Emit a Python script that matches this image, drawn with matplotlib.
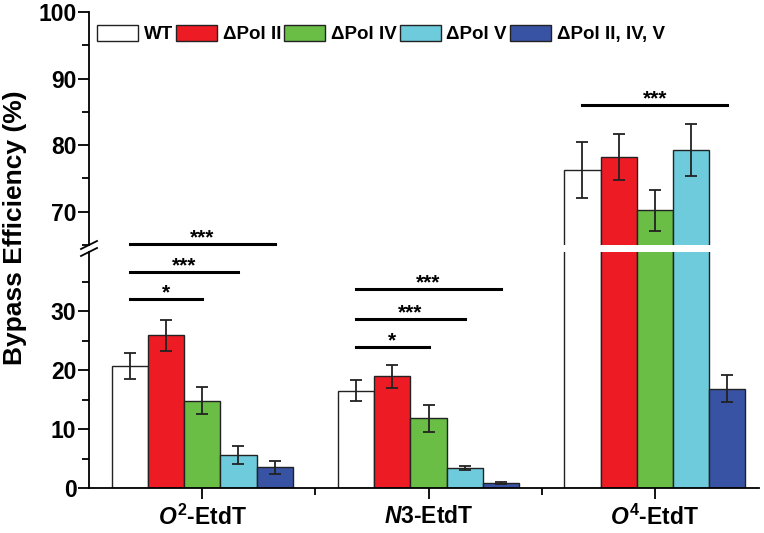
import matplotlib
matplotlib.use("Agg")
import matplotlib.pyplot as plt
import numpy as np
from matplotlib.lines import Line2D
from matplotlib.ticker import MultipleLocator

plt.rcParams["font.family"] = ["Liberation Sans", "DejaVu Sans"]
plt.rcParams["font.weight"] = "bold"
plt.rcParams["mathtext.fontset"] = "custom"
plt.rcParams["mathtext.it"] = "Liberation Sans:italic:bold"
plt.rcParams["mathtext.rm"] = "Liberation Sans:bold"
plt.rcParams["mathtext.bf"] = "Liberation Sans:bold"

groups = [r"$O^{2}$-EtdT", r"$N$3-EtdT", r"$O^{4}$-EtdT"]
strains = ["WT", "ΔPol II", "ΔPol IV", "ΔPol V", "ΔPol II, IV, V"]
colors = ["#ffffff", "#ed1c24", "#6abd45", "#6dcbdc", "#3953a4"]

wt = [20.6, 16.5, 76.3]
wt_err = [2.2, 1.8, 4.2]
pol2 = [25.9, 18.9, 78.2]
pol2_err = [2.6, 2.0, 3.5]
pol4 = [14.8, 11.8, 70.2]
pol4_err = [2.3, 2.3, 3.1]
pol5 = [5.6, 3.4, 79.3]
pol5_err = [1.5, 0.35, 3.9]
triple = [3.5, 0.9, 16.8]
triple_err = [1.1, 0.15, 2.3]

values = [wt, pol2, pol4, pol5, triple]
errors = [wt_err, pol2_err, pol4_err, pol5_err, triple_err]

# significance brackets: WT vs strain index
sig_group = [0, 0, 0, 1, 1, 1, 2]
sig_target = [4, 3, 2, 4, 3, 2, 4]
sig_level = [41.4, 36.6, 32.1, 33.7, 28.6, 23.9, 86.0]
sig_label = ["***", "***", "*", "***", "***", "*", "***"]

W, H = 764, 533
fig = plt.figure(figsize=(W / 100, H / 100), dpi=100)
left, right = 89 / W, 759 / W
ax_top = fig.add_axes([left, 1 - 245 / H, right - left, (245 - 12) / H])
ax_bot = fig.add_axes([left, 1 - 488 / H, right - left, (488 - 252) / H])

x = np.arange(len(groups))
width = 0.16
offsets = (np.arange(len(strains)) - 2) * width

for ax in (ax_top, ax_bot):
    for i, (vals, errs) in enumerate(zip(values, errors)):
        ax.bar(x + offsets[i], vals, width, color=colors[i], edgecolor="#222222",
               linewidth=1.0, label=strains[i], zorder=2)
        ax.errorbar(x + offsets[i], vals, yerr=errs, fmt="none", ecolor="#222222",
                    elinewidth=1.3, capsize=4, capthick=1.3, zorder=3)
    ax.set_xlim(-0.5, 2.46)
    for s in ("top", "right"):
        ax.spines[s].set_visible(False)
    ax.spines["left"].set_linewidth(1.3)
    ax.tick_params(axis="y", which="major", length=8, width=1.3, labelsize=16.5, pad=1)
    ax.tick_params(axis="y", which="minor", length=5, width=1.3)

ax_top.set_ylim(65, 100)
ax_top.yaxis.set_major_locator(MultipleLocator(10))
ax_top.yaxis.set_minor_locator(MultipleLocator(5))
ax_top.set_yticks([70, 80, 90, 100])
ax_top.spines["bottom"].set_visible(False)
ax_top.tick_params(axis="x", which="both", bottom=False, labelbottom=False)

ax_bot.set_ylim(0, 40)
ax_bot.set_yticks([0, 10, 20, 30])
ax_bot.set_yticks([5, 15, 25, 35], minor=True)
ax_bot.spines["bottom"].set_linewidth(1.3)
ax_bot.set_xticks(x)
ax_bot.set_xticklabels(groups, fontsize=16.5)
ax_bot.set_xticks([0.5, 1.5], minor=True)
ax_bot.tick_params(axis="x", which="major", length=8, width=1.3, pad=4)
ax_bot.tick_params(axis="x", which="minor", length=5, width=1.3)

# significance lines
for g, t, lev, lab in zip(sig_group, sig_target, sig_level, sig_label):
    ax = ax_top if lev > 65 else ax_bot
    x0 = x[g] + offsets[0]
    x1 = x[g] + offsets[t]
    ax.plot([x0, x1], [lev, lev], color="black", lw=2.2, clip_on=False, zorder=4)
    ax.annotate(lab, ((x0 + x1) / 2, lev), xytext=(0, -2.5), textcoords="offset points",
                ha="center", va="bottom", fontsize=15, annotation_clip=False)

# axis break marks
for yb in (245, 252):
    fig.add_artist(Line2D([81 / W, 97 / W], [1 - (yb + 4) / H, 1 - (yb - 4) / H],
                          color="black", lw=1.3))

fig.text(15 / W, 1 - 228 / H, "Bypass Efficiency (%)", rotation=90, ha="center",
         va="center", fontsize=19)

fig.legend(*ax_bot.get_legend_handles_labels(), loc="center left",
           bbox_to_anchor=(97 / W, 1 - 34 / H), ncol=5, frameon=False, fontsize=13.5,
           handlelength=2.2, handleheight=1.0, handletextpad=0.3, columnspacing=0.15,
           borderpad=0, borderaxespad=0)

fig.savefig("out.png", dpi=100)
